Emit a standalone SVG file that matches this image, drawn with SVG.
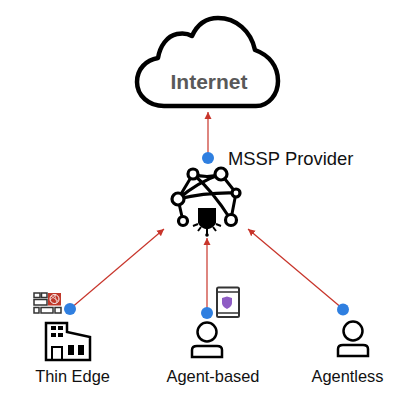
<svg xmlns="http://www.w3.org/2000/svg" width="410" height="409" viewBox="0 0 410 409">
<style>
.t{font-family:"Liberation Sans",Arial,sans-serif;font-size:16.400px;fill:#111}
.i{fill:none;stroke:#000;stroke-width:2.5}
.n{fill:#fff;stroke:#000;stroke-width:3.200}
.c{fill:none;stroke:#c8352b;stroke-width:1.200;marker-end:url(#a)}
.d{fill:#2f7fe0}
.b{fill:none;stroke:#333;stroke-width:1.500}
</style>
<defs><marker id="a" markerUnits="userSpaceOnUse" markerWidth="8" markerHeight="8" refX="7" refY="4" orient="auto"><path d="M0 0.5L7 4L0 7.5z" fill="#c8352b"/></marker></defs>
<rect width="410" height="409" fill="#fff"/>
<g id="connectors">
<path class="c" d="M208 158V112"/>
<path class="c" d="M70 309L164 229"/>
<path class="c" d="M207 313V238"/>
<path class="c" d="M343 309L248 229"/>
</g>
<g id="internet">
<path d="M164 106H256C269 106 278 94 278 81C278 66 269 55 255 50C251 31 236 18 218 18C206 18 197 25 192 36C187 33 182 33 177 34C167 36 160 46 158 58C146 60 137 69 137 82C137 96 149 106 164 106Z" fill="#fff" stroke="#000" stroke-width="4.500" stroke-linejoin="round"/>
<text x="209" y="89" text-anchor="middle" style="font-family:'Liberation Sans',Arial,sans-serif;font-size:21px;font-weight:700;fill:#595959">Internet</text>
</g>
<g id="mssp">
<circle class="d" cx="208" cy="158" r="6"/>
<text class="t" x="228" y="165" style="font-size:18.400px">MSSP Provider</text>
<path class="i" d="M193 174Q207 179 221 174M193 174L178 199M193 174Q212 190 231 220M221 174L236 193M221 174Q198 182 178 199M178 199Q207 192 236 193M178 199L183 221M236 193L231 219" style="stroke-width:3"/>
<circle class="n" cx="193" cy="174" r="5"/>
<circle class="n" cx="221" cy="174" r="6"/>
<circle class="n" cx="178" cy="199" r="6"/>
<circle class="n" cx="236" cy="193" r="4"/>
<circle class="n" cx="183" cy="221" r="4.500"/>
<circle class="n" cx="231" cy="220" r="5.500"/>
<path d="M198 208H216V223C214 227 210 229 207 229C204 229 200 227 198 223Z" fill="#000"/>
<path d="M207 229V235M198 224L193 226M201 227L198 231M216 224L221 226M213 227L216 231" stroke="#000" stroke-width="2" fill="none"/>
<circle cx="207" cy="235" r="1.800" fill="#000"/>
</g>
<g id="thin-edge">
<circle class="d" cx="70" cy="309" r="6"/>
<rect class="b" x="34" y="293" width="6" height="4.500"/><rect class="b" x="41.500" y="293" width="5.500" height="4.500"/>
<rect class="b" x="34" y="299.500" width="13" height="5.500"/>
<rect class="b" x="34" y="307.500" width="5" height="5.500"/><rect class="b" x="41" y="307.500" width="12" height="5.500"/><rect class="b" x="55" y="307.500" width="6" height="5.500"/>
<rect x="48" y="293" width="13" height="12.500" fill="#c0392b"/>
<circle cx="54.500" cy="299" r="4.500" fill="none" stroke="#fff" stroke-width="1"/>
<path d="M54.500 294.500L57 303M51 296L58 301M50 300L56 294.800" stroke="#fff" stroke-width="0.600" fill="none"/>
<path d="M46 360V323H67V332L90 337V360Z" fill="none" stroke="#000" stroke-width="2.500"/>
<path d="M51 326h5v4h-5zM58 326h5v4h-5zM51 333h5v4h-5zM58 333h5v4h-5zM68 345h6v10h-6zM78 345h6v10h-6z" fill="#000"/>
<path d="M52 360V347H62V360" fill="none" stroke="#000" stroke-width="2"/>
<text class="t" x="72.500" y="382" text-anchor="middle">Thin Edge</text>
</g>
<g id="agent-based">
<circle class="d" cx="207" cy="313" r="6"/>
<rect x="217" y="287.500" width="22" height="29.500" rx="1.500" fill="none" stroke="#333" stroke-width="2"/>
<path d="M217 292H239M217 313H239" stroke="#333" stroke-width="1.500"/>
<path d="M222 298L227 296.500L232 298V303C232 306 229 308 227 309C225 308 222 306 222 303Z" fill="#8e5cc4"/>
<circle class="i" cx="207" cy="332" r="9.500"/>
<path class="i" d="M192 357V350C192 347 194 346 197 346H217C220 346 222 347 222 350V357Z"/>
<text class="t" x="213" y="382" text-anchor="middle">Agent-based</text>
</g>
<g id="agentless">
<circle class="d" cx="343" cy="309.500" r="6"/>
<circle class="i" cx="353" cy="331" r="9.500"/>
<path class="i" d="M338 356V349C338 346 340 345 343 345H363C366 345 368 346 368 349V356Z"/>
<text class="t" x="347.500" y="382" text-anchor="middle">Agentless</text>
</g>
</svg>
